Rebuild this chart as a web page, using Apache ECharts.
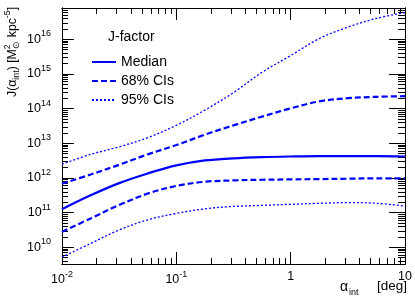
<!DOCTYPE html>
<html><head><meta charset="utf-8">
<script src="https://cdn.jsdelivr.net/npm/echarts@6/dist/echarts.min.js"></script>
<style>html,body{margin:0;padding:0;background:#fff}#c{width:415px;height:303px}</style>
</head><body><div id="c"></div>
<script>
// ---- data ----
const alphaDeg  = [0.01, 0.0178, 0.0316, 0.0562, 0.1, 0.178, 0.316, 0.562, 1, 1.78, 3.16, 5.62, 10];
const jMedian   = [1.26e11, 3.16e11, 7.1e11, 1.35e12, 2.3e12, 3.2e12, 3.7e12, 4.0e12, 4.17e12, 4.27e12, 4.27e12, 4.27e12, 4.17e12];
const j68Upper  = [6.8e11, 1.26e12, 2.4e12, 4.8e12, 8.9e12, 1.78e13, 3.3e13, 5.9e13, 1.02e14, 1.62e14, 2.0e14, 2.19e14, 2.29e14];
const j68Lower  = [2.8e10, 6.8e10, 1.66e11, 3.55e11, 5.9e11, 7.8e11, 8.5e11, 8.9e11, 9.1e11, 9.3e11, 9.5e11, 9.8e11, 9.8e11];
const j95Upper  = [2.5e12, 4.8e12, 7.9e12, 1.45e13, 3.3e13, 9.1e13, 2.9e14, 1.12e15, 3.4e15, 1.05e16, 2.24e16, 4.0e16, 5.9e16];
const j95Lower  = [5.2e9, 1.29e10, 3.16e10, 6.2e10, 9.5e10, 1.29e11, 1.51e11, 1.62e11, 1.74e11, 1.86e11, 1.95e11, 1.86e11, 1.55e11];

const xMajorTicks = [0.01, 0.1, 1, 10];
const xTickBase   = ['10', '10', '1', '10'];
const xTickExp    = ['-2', '-1', '', ''];
const yMajorTicks = [1e10, 1e11, 1e12, 1e13, 1e14, 1e15, 1e16];
const yTickBase   = ['10', '10', '10', '10', '10', '10', '10'];
const yTickExp    = ['10', '11', '12', '13', '14', '15', '16'];
const legendNames = ['Median', '68% CIs', '95% CIs'];
const legendTitle = 'J-factor';

const xMin = 0.01, xMax = 10, yMin = 3.3e9, yMax = 8e16;

// minor tick positions (2..9 within each decade)
function minors(lo, hi) {
  const out = [];
  for (let e = -3; e <= 17; e++) for (let m = 2; m <= 9; m++) {
    const v = m * Math.pow(10, e);
    if (v > lo * 1.0001 && v < hi * 0.9999) out.push(v);
  }
  return out;
}
const xMinorTicks = minors(xMin, xMax);
const yMinorTicks = minors(yMin, yMax);

const FF = '"Liberation Sans", Arial, Helvetica, sans-serif';
const BLUE = '#0000ff';

function findIdx(arr, v) {
  for (let i = 0; i < arr.length; i++) if (Math.abs(Math.log10(arr[i]) - Math.log10(v)) < 1e-6) return i;
  return -1;
}
const richTick = {
  b: { fontSize: 12.5, fontFamily: FF, color: '#000' },
  s: { fontSize: 9, fontFamily: FF, color: '#000', padding: [0, 0, 11, 0] }
};
function xFmt(v) { const i = findIdx(xMajorTicks, v); if (i < 0) return ''; return xTickExp[i] ? `{b|${xTickBase[i]}}{s|${xTickExp[i]}}` : `{b|${xTickBase[i]}}`; }
function yFmt(v) { const i = findIdx(yMajorTicks, v); if (i < 0) return ''; return `{b|${yTickBase[i]}}{s|${yTickExp[i]}}`; }

function xAx(pos, ticks, len, showLabel) {
  return {
    type: 'log', logBase: 10, min: xMin, max: xMax, position: pos, gridIndex: 0,
    axisLine: { show: true, onZero: false, lineStyle: { color: '#000', width: 1 } },
    axisTick: { show: true, inside: true, length: len, customValues: ticks, lineStyle: { color: '#000', width: 1 } },
    axisLabel: { show: showLabel, customValues: xMajorTicks, formatter: xFmt, rich: richTick, margin: 6 },
    splitLine: { show: false }, minorTick: { show: false }
  };
}
function yAx(pos, ticks, len, showLabel) {
  return {
    type: 'log', logBase: 10, min: yMin, max: yMax, position: pos, gridIndex: 0,
    axisLine: { show: true, onZero: false, lineStyle: { color: '#000', width: 1 } },
    axisTick: { show: true, inside: true, length: len, customValues: ticks, lineStyle: { color: '#000', width: 1 } },
    axisLabel: { show: showLabel, customValues: yMajorTicks, formatter: yFmt, rich: richTick, margin: 11 },
    splitLine: { show: false }, minorTick: { show: false }
  };
}

function pts(ys) { return alphaDeg.map((x, i) => [x, ys[i]]); }
function line(name, ys, type, width) {
  return {
    name, type: 'line', data: pts(ys), xAxisIndex: 0, yAxisIndex: 0,
    showSymbol: false, symbol: 'none', smooth: 0.35, silent: true,
    lineStyle: { color: BLUE, width, type }, itemStyle: { color: BLUE }
  };
}

// --- rotated y-axis title built from measured text pieces ---
const cv = document.createElement('canvas').getContext('2d');
function tw(t, size) { cv.font = `${size}px ${FF}`; return cv.measureText(t).width; }
const TB = 12.3, TS = 8.8;
const yTitlePieces = [];
(function () {
  let x = 0;
  function add(t, kind) {
    const size = kind === 'b' ? TB : TS;
    const dy = kind === 'sub' ? 4 : kind === 'sup' ? -5.5 : 0;
    yTitlePieces.push({ type: 'text', x, y: dy, style: { text: t, font: `${size}px ${FF}`, fill: '#000', textVerticalAlign: 'middle' } });
    return tw(t, size);
  }
  x += add('J(α', 'b');
  x += add('int', 'sub');
  x += add(') [M', 'b');
  const w1 = add('2', 'sup');
  const w2 = add('⊙', 'sub');
  x += Math.max(w1, w2) + 0.5;
  x += add(' kpc', 'b');
  x += add('-5', 'sup');
  x += add(']', 'b');
})();

const chart = echarts.init(document.getElementById('c'), null, { renderer: 'canvas' });
chart.setOption({
  animation: false,
  backgroundColor: '#fff',
  textStyle: { fontFamily: FF },
  grid: { left: 62, right: 10, top: 8, bottom: 39, containLabel: false },
  xAxis: [
    xAx('bottom', xMajorTicks, 12, true),
    xAx('bottom', xMinorTicks, 6, false),
    xAx('top', xMajorTicks, 12, false),
    xAx('top', xMinorTicks, 6, false)
  ],
  yAxis: [
    yAx('left', yMajorTicks, 12, true),
    yAx('left', yMinorTicks, 6, false),
    yAx('right', yMajorTicks, 16, false),
    yAx('right', yMinorTicks, 7, false)
  ],
  legend: {
    show: true, orient: 'vertical', left: 91, top: 55, padding: 0,
    itemWidth: 24, itemHeight: 14, itemGap: 5,
    data: legendNames, selectedMode: false,
    itemStyle: { opacity: 0 },
    textStyle: { fontSize: 14, fontFamily: FF, color: '#000' }
  },
  series: [
    line(legendNames[0], jMedian, 'solid', 2.2),
    line(legendNames[1], j68Upper, [6, 3], 2.2),
    line(legendNames[1], j68Lower, [6, 3], 2.2),
    line(legendNames[2], j95Upper, [2, 2], 1.3),
    line(legendNames[2], j95Lower, [2, 2], 1.3)
  ],
  graphic: [
    { type: 'text', left: 108, top: 30, style: { text: legendTitle, font: `14px ${FF}`, fill: '#000' } },
    { type: 'group', x: 13, y: 97, rotation: Math.PI / 2, children: yTitlePieces },
    { type: 'text', x: 340, y: 287, style: { text: 'α', font: `14px ${FF}`, fill: '#000', textVerticalAlign: 'middle' } },
    { type: 'text', x: 349, y: 293, style: { text: 'int', font: `9px ${FF}`, fill: '#000', textVerticalAlign: 'middle' } },
    { type: 'text', x: 407, y: 286.5, style: { text: '[deg]', font: `13.5px ${FF}`, fill: '#000', textAlign: 'right', textVerticalAlign: 'middle' } }
  ]
});
</script>
</body></html>
